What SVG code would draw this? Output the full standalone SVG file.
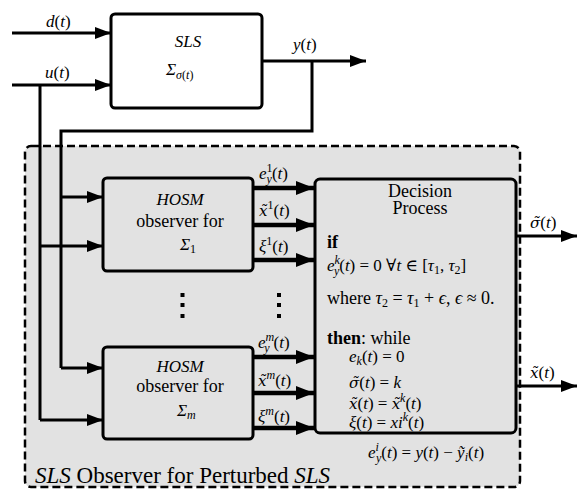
<svg xmlns="http://www.w3.org/2000/svg" width="578" height="491" viewBox="0 0 578 491" font-family="'Liberation Serif', 'DejaVu Serif', serif">
<style>
text{font-family:"Liberation Serif","DejaVu Serif",serif;}
.t{font-size:18px;}
.m{font-size:17px;font-style:italic;}
.s{font-size:12px;}
.dj{font-family:"DejaVu Serif",serif;font-size:15px;}
.box{fill:#fff;stroke:#000;stroke-width:3;}
.gbox{fill:#e2e2e2;stroke:#000;stroke-width:3;}
.ln{fill:none;stroke:#000;stroke-width:3;}
.th{fill:none;stroke:#000;stroke-width:4.5;}
</style>
<defs>
<marker id="ah" markerUnits="userSpaceOnUse" markerWidth="16" markerHeight="12" refX="16" refY="6" orient="auto">
<path d="M0,0 L16,6 L0,12 z" fill="#000"/>
</marker>
<marker id="ahb" markerUnits="userSpaceOnUse" markerWidth="18" markerHeight="14" refX="18" refY="7" orient="auto">
<path d="M0,0 L18,7 L0,14 z" fill="#000"/>
</marker>
</defs>

<g id="observer-frame">
<rect x="25" y="146" width="495" height="341" rx="6" fill="#e2e2e2" stroke="#000" stroke-width="2.5" stroke-dasharray="8,4"/>
<text x="35" y="483" font-size="23"><tspan font-style="italic">SLS</tspan> Observer for Perturbed <tspan font-style="italic">SLS</tspan></text>
</g>

<g id="connectors">
<line class="ln" x1="12" y1="33" x2="111" y2="33" marker-end="url(#ah)" stroke-width="4"/>
<line class="ln" x1="12" y1="85" x2="111" y2="85" marker-end="url(#ah)" stroke-width="4"/>
<line class="ln" x1="262" y1="61" x2="366" y2="61" marker-end="url(#ah)"/>
<polyline class="ln" points="312,61 312,131 61,131 61,368"/>
<polyline class="ln" points="40,85 40,420"/>
<line class="ln" x1="61" y1="197" x2="103" y2="197" marker-end="url(#ah)"/>
<line class="ln" x1="40" y1="246" x2="103" y2="246" marker-end="url(#ah)"/>
<line class="ln" x1="61" y1="368" x2="103" y2="368" marker-end="url(#ah)"/>
<line class="ln" x1="40" y1="420" x2="103" y2="420" marker-end="url(#ah)"/>
<line class="th" x1="253" y1="188" x2="314" y2="188" marker-end="url(#ahb)"/>
<line class="th" x1="253" y1="225" x2="314" y2="225" marker-end="url(#ahb)"/>
<line class="th" x1="253" y1="260" x2="314" y2="260" marker-end="url(#ahb)"/>
<line class="th" x1="253" y1="357" x2="314" y2="357" marker-end="url(#ahb)"/>
<line class="th" x1="253" y1="393" x2="314" y2="393" marker-end="url(#ahb)"/>
<line class="th" x1="253" y1="428" x2="314" y2="428" marker-end="url(#ahb)"/>
<line class="ln" x1="516" y1="236" x2="577" y2="236" marker-end="url(#ah)" stroke-width="4"/>
<line class="ln" x1="516" y1="386" x2="577" y2="386" marker-end="url(#ah)" stroke-width="4"/>
<text class="m" x="46" y="27">d<tspan font-style="normal">(</tspan>t<tspan font-style="normal">)</tspan></text>
<text class="m" x="45" y="78">u<tspan font-style="normal">(</tspan>t<tspan font-style="normal">)</tspan></text>
<text class="m" x="293" y="50">y<tspan font-style="normal">(</tspan>t<tspan font-style="normal">)</tspan></text>
<text class="m" x="259" y="179">e<tspan class="s" font-style="normal" dy="-7">1</tspan><tspan class="s" dx="-6" dy="11">y</tspan><tspan font-style="normal" dy="-4">(</tspan>t<tspan font-style="normal">)</tspan></text>
<text class="m" x="259" y="216"><tspan class="dj">x̃</tspan><tspan class="s" font-style="normal" dy="-7">1</tspan><tspan font-style="normal" dy="7">(</tspan>t<tspan font-style="normal">)</tspan></text>
<text class="m" x="259" y="252">ξ<tspan class="s" font-style="normal" dy="-7">1</tspan><tspan font-style="normal" dy="7">(</tspan>t<tspan font-style="normal">)</tspan></text>
<text class="m" x="258" y="348">e<tspan class="s" dy="-7">m</tspan><tspan class="s" dx="-10" dy="11">y</tspan><tspan font-style="normal" dx="4" dy="-4">(</tspan>t<tspan font-style="normal">)</tspan></text>
<text class="m" x="258" y="386"><tspan class="dj">x̃</tspan><tspan class="s" dy="-7">m</tspan><tspan font-style="normal" dy="7">(</tspan>t<tspan font-style="normal">)</tspan></text>
<text class="m" x="258" y="422">ξ<tspan class="s" dy="-7">m</tspan><tspan font-style="normal" dy="7">(</tspan>t<tspan font-style="normal">)</tspan></text>
<text class="m" x="530" y="228"><tspan class="dj">σ̃</tspan><tspan font-style="normal">(</tspan>t<tspan font-style="normal">)</tspan></text>
<text class="m" x="530" y="378"><tspan class="dj">x̃</tspan><tspan font-style="normal">(</tspan>t<tspan font-style="normal">)</tspan></text>
</g>

<g id="sls">
<rect class="box" x="111" y="14" width="151" height="94" rx="4"/>
<text class="m" x="188" y="47" text-anchor="middle">SLS</text>
<text class="m" x="166" y="75">Σ<tspan class="s" dy="4">σ</tspan><tspan class="s" font-style="normal">(</tspan><tspan class="s">t</tspan><tspan class="s" font-style="normal">)</tspan></text>
</g>

<g id="hosm1">
<rect class="gbox" x="103" y="178" width="150" height="93" rx="4"/>
<text class="m" x="180" y="205" text-anchor="middle">HOSM</text>
<text class="t" x="180" y="227" text-anchor="middle">observer for</text>
<text class="m" x="180" y="250">Σ<tspan class="s" font-style="normal" dy="3">1</tspan></text>
</g>

<g id="dots">
<rect x="180.5" y="293" width="4" height="4"/>
<rect x="180.5" y="303" width="4" height="4"/>
<rect x="180.5" y="314" width="4" height="4"/>
<rect x="277" y="293" width="4" height="4"/>
<rect x="277" y="303" width="4" height="4"/>
<rect x="277" y="314" width="4" height="4"/>
</g>

<g id="hosm2">
<rect class="gbox" x="103" y="347" width="150" height="92" rx="4"/>
<text class="m" x="180" y="372" text-anchor="middle">HOSM</text>
<text class="t" x="180" y="392" text-anchor="middle">observer for</text>
<text class="m" x="177" y="416">Σ<tspan class="s" dy="3">m</tspan></text>
</g>

<g id="decision">
<rect class="gbox" x="315" y="179" width="201" height="254" rx="5"/>
<text class="t" x="420" y="197" text-anchor="middle">Decision</text>
<text class="t" x="420" y="214" text-anchor="middle">Process</text>
<text class="t" x="327" y="248" font-weight="bold">if</text>
<text class="m" x="327" y="271">e<tspan class="s" dy="-7">k</tspan><tspan class="s" dx="-6" dy="11">y</tspan><tspan font-style="normal" dy="-4">(</tspan>t<tspan font-style="normal">) = 0 ∀</tspan>t<tspan font-style="normal"> ∈ [</tspan>τ<tspan class="s" font-style="normal" dy="3">1</tspan><tspan font-style="normal" dy="-3">, </tspan>τ<tspan class="s" font-style="normal" dy="3">2</tspan><tspan font-style="normal" dy="-3">]</tspan></text>
<text class="t" x="327" y="304" font-size="17">where <tspan font-style="italic">τ</tspan><tspan class="s" dy="3">2</tspan><tspan dy="-3"> = </tspan><tspan font-style="italic">τ</tspan><tspan class="s" dy="3">1</tspan><tspan dy="-3"> + </tspan><tspan font-style="italic">ϵ</tspan>, <tspan font-style="italic">ϵ</tspan> ≈ 0.</text>
<text class="t" x="327" y="344"><tspan font-weight="bold">then</tspan>: while</text>
<text class="m" x="349" y="362">e<tspan class="s" dy="3">k</tspan><tspan font-style="normal" dy="-3">(</tspan>t<tspan font-style="normal">) = 0</tspan></text>
<text class="m" x="349" y="388"><tspan class="dj">σ̃</tspan><tspan font-style="normal">(</tspan>t<tspan font-style="normal">) = </tspan>k</text>
<text class="m" x="349" y="409"><tspan class="dj">x̃</tspan><tspan font-style="normal">(</tspan>t<tspan font-style="normal">) = </tspan><tspan class="dj">x̃</tspan><tspan class="s" dy="-7">k</tspan><tspan font-style="normal" dy="7">(</tspan>t<tspan font-style="normal">)</tspan></text>
<text class="m" x="349" y="428">ξ<tspan font-style="normal">(</tspan>t<tspan font-style="normal">) = </tspan>xi<tspan class="s" dy="-7">k</tspan><tspan font-style="normal" dy="7">(</tspan>t<tspan font-style="normal">)</tspan></text>
</g>

<g id="error-def">
<text class="m" x="368" y="458">e<tspan class="s" dy="-7">i</tspan><tspan class="s" dx="-3" dy="11">y</tspan><tspan font-style="normal" dy="-4">(</tspan>t<tspan font-style="normal">) = </tspan>y<tspan font-style="normal">(</tspan>t<tspan font-style="normal">) − </tspan>ỹ<tspan class="s" dy="3">i</tspan><tspan font-style="normal" dy="-3">(</tspan>t<tspan font-style="normal">)</tspan></text>
</g>
</svg>
